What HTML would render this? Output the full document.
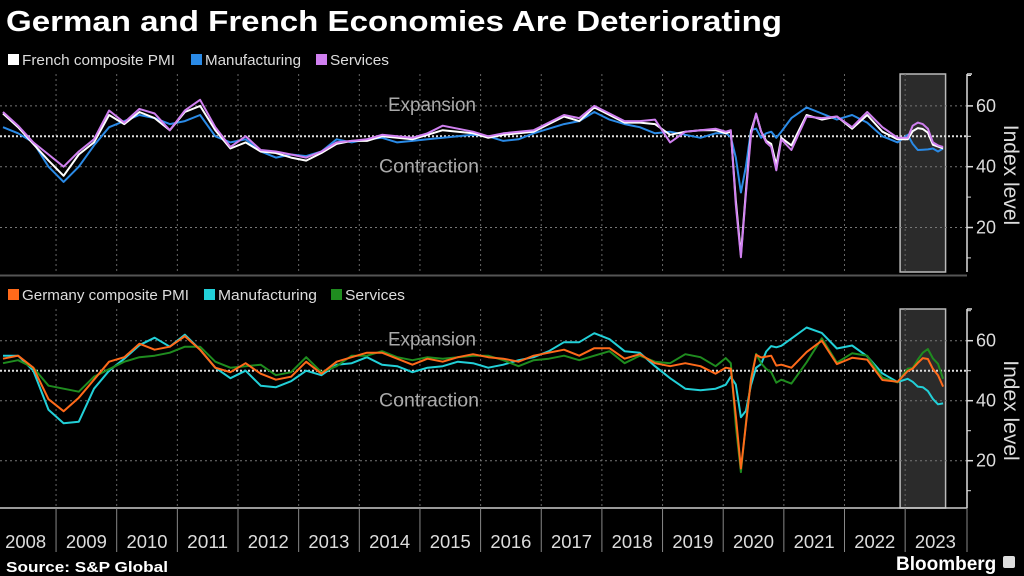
<!DOCTYPE html>
<html><head><meta charset="utf-8"><style>
html,body{margin:0;padding:0;background:#000;}
svg{display:block;font-family:"Liberation Sans",sans-serif;}
</style></head><body>
<svg id="chart" width="1024" height="576" viewBox="0 0 1024 576">
<rect x="0" y="0" width="1024" height="576" fill="#000"/>
<text x="6" y="31" fill="#fff" font-size="29" font-weight="bold" textLength="776" lengthAdjust="spacingAndGlyphs">German and French Economies Are Deteriorating</text>
<g>
<rect x="8" y="54" width="11" height="11" fill="#fff"/>
<text x="22" y="65" fill="#ddd" font-size="15" textLength="153" lengthAdjust="spacingAndGlyphs">French composite PMI</text>
<rect x="191" y="54" width="11" height="11" fill="#2a8ae6"/>
<text x="205" y="65" fill="#ddd" font-size="15" textLength="96" lengthAdjust="spacingAndGlyphs">Manufacturing</text>
<rect x="316" y="54" width="11" height="11" fill="#d080f0"/>
<text x="330" y="65" fill="#ddd" font-size="15" textLength="59" lengthAdjust="spacingAndGlyphs">Services</text>
</g>
<g>
<rect x="8" y="289" width="11" height="11" fill="#ff6a1a"/>
<text x="22" y="300" fill="#ddd" font-size="15" textLength="167" lengthAdjust="spacingAndGlyphs">Germany composite PMI</text>
<rect x="204" y="289" width="11" height="11" fill="#22d0d8"/>
<text x="218" y="300" fill="#ddd" font-size="15" textLength="99" lengthAdjust="spacingAndGlyphs">Manufacturing</text>
<rect x="331" y="289" width="11" height="11" fill="#1f8c1f"/>
<text x="345" y="300" fill="#ddd" font-size="15" textLength="60" lengthAdjust="spacingAndGlyphs">Services</text>
</g>
<rect x="0" y="274.5" width="967" height="2" fill="#555"/>
<g id="layer"></g>
<text x="6" y="572" fill="#fff" font-size="15" font-weight="bold" textLength="162" lengthAdjust="spacingAndGlyphs">Source: S&amp;P Global</text>
<text x="896" y="570" fill="#fff" font-size="19" font-weight="bold">Bloomberg</text>
<rect x="1003" y="556" width="12" height="12" rx="2" fill="#ddd"/>
</svg>
<script>
const dates = [
"2008-02","2008-05","2008-08","2008-11","2009-02","2009-05","2009-08","2009-11",
"2010-02","2010-05","2010-08","2010-11","2011-02","2011-05","2011-08","2011-11",
"2012-02","2012-05","2012-08","2012-11","2013-02","2013-05","2013-08","2013-11",
"2014-02","2014-05","2014-08","2014-11","2015-02","2015-05","2015-08","2015-11",
"2016-02","2016-05","2016-08","2016-11","2017-02","2017-05","2017-08","2017-11",
"2018-02","2018-05","2018-08","2018-11","2019-02","2019-05","2019-08","2019-11",
"2020-01","2020-02","2020-03","2020-04","2020-05","2020-06","2020-07","2020-08","2020-09","2020-10","2020-11","2020-12",
"2021-02","2021-05","2021-08","2021-11","2022-02","2022-05","2022-08","2022-11",
"2023-01","2023-02","2023-03","2023-04","2023-05","2023-06","2023-07","2023-08"];
const frComposite = [57.5,53,47.5,42, 37,44,48,57, 54,58,56,52, 58,60,52,46, 48,45,44.5,43, 42,44.5,47.5,48.5, 48.5,50,49.5,49, 50.5,52,51.5,51, 49.5,50.5,51,51.5, 54,56.5,55,59.5, 57,54.5,54.5,54, 50.5,51.5,52,52,
 51,51.5,29,11,32,51.7,57.3,51.6,48.5,47.5,40.6,49.5, 47,57,55.5,56.5, 52.5,57,51.5,49, 49,51.7,52.7,52.4,51.2,47.2,46.6,46.0];
const frServices = [58,53.5,48,44, 40,45,49,58.5, 54.5,59,57.5,52, 58.5,62,53,46.5, 50,45.5,45,44, 43,45,48,48.5, 49,50.5,50,49.5, 51,53.5,52.5,51.5, 50,51,51.5,52, 54.5,57,56,60, 57.5,55,55,55.5, 48,51.5,52,52.5,
 51.5,52,27.5,10.2,31,50.5,57.5,51.5,48,46.5,38.8,49, 45.5,56.5,56,56.5, 53,58,53,49.5, 49.5,53.5,54.5,54,52.5,48,47,46.5];
const frManufacturing = [53,51,48,40, 35,40,47,53, 55,57,56,54, 55,57,50,48, 49,45,43,44, 43.5,45,49,48, 49,49.5,48,48.5, 49,49.5,50,50.5, 50,48.5,49,51, 52.5,54,55,58, 55.5,54,53,51, 51.5,50.5,49.5,51,
 51,49.8,43,31.5,40,52,52.5,49.5,51,51.5,49.5,51.5, 56,59.5,57.5,55.5, 57,54.5,50,48, 50.5,47.5,45.5,45.6,45.7,46,45,46];
const deComposite = [54,55,51,40.5, 36.5,41,47,53, 54.5,59,57,58, 61.5,57,51,49.5, 52.5,49,47,48, 53,49,53,54.5, 56,56,54,52, 54,53,54.5,55.5, 54.5,54,53,55, 56,57,55,57.5, 57.5,54,55.5,52.5, 51.5,52.5,51.5,49,
 51,50.7,35,17.4,32,47,55.3,54.4,54.7,55,51.7,52, 51,56.2,60,52.2, 54.3,53.7,46.9,46.3, 49.9,50.7,52.6,54.2,53.9,50.6,48.5,44.7];
const deManufacturing = [55,55,50,37, 32.5,33,44,50, 54,58.5,61,58, 62,57,51,47.5, 50,45,44.5,46.5, 50,48.5,52,52.5, 54.5,52,51.5,49.5, 51,51.5,53,52.5, 51,52,53.5,54.5, 56.5,59.5,59.5,62.5, 60.5,56.5,56,51.5, 47.5,44,43.5,44,
 45.3,48,45.4,34.5,36.6,45.2,51,52.2,56.4,58.2,57.8,58.3, 60.7,64.4,62.6,57.4, 58.4,54.8,49.1,46.2, 47.3,46.3,44.7,44.5,43.2,40.6,38.8,39.1];
const deServices = [52.5,53.5,51,45, 44,43,48,50.5, 53,54.5,55,56, 58,58,53,51, 51.5,52,48.5,49.5, 54.5,49.5,51.5,55, 55,56.5,54.5,53.5, 54.5,54,54.5,55, 55,53.5,51.5,53.5, 54,55,53.5,55, 56.5,52.5,55,53, 52.5,55.5,54.5,51.5,
 54.2,52.5,31.7,16.2,32.6,47.3,55.6,52.5,50.6,49.5,46,47, 45.7,52.8,60.8,52.7, 55.8,55,47.7,46.1, 50.7,50.9,53.7,56,57.2,54.1,52.3,47.3];
const years = ["2008","2009","2010","2011","2012","2013","2014","2015","2016","2017","2018","2019","2020","2021","2022","2023"];
const yTicks = [20,40,60];
const minorTicks = [10,30,50,70];
const shadeStart = "2022-12", shadeEnd = "2023-09";

const NS = "http://www.w3.org/2000/svg";
const layer = document.getElementById("layer");
function mk(tag, attrs, parent){ const e=document.createElementNS(NS,tag); for(const k in attrs) e.setAttribute(k,attrs[k]); (parent||layer).appendChild(e); return e; }
function tOf(d){ const p=d.split("-"); return +p[0] + (+p[1]-0.5)/12; }
function xOf(t){ return -4.6 + (t-2008)*60.65; }
const RIGHT = 967;
const panels = [
  {top:74, bot:272, y50:136.3, k:3.04, series:[[frManufacturing,"#2a8ae6"],[frComposite,"#ffffff"],[frServices,"#d080f0"]], name:"france"},
  {top:309, bot:508, y50:370.7, k:3.0, series:[[deManufacturing,"#22d0d8"],[deServices,"#1f8c1f"],[deComposite,"#ff6a1a"]], name:"germany"}
];
panels.forEach(p=>{
  const y = v => p.y50 - (v-50)*p.k;
  const g = mk("g",{});
  
  
  const sx = xOf(tOf(shadeStart)-0.5/12), ex = xOf(tOf(shadeEnd)-0.5/12);
  const sh = mk("rect",{x:sx,y:p.top,width:ex-sx,height:p.bot-p.top,fill:"#2b2b2b",stroke:"#bbb","stroke-width":1.5},g);
  
  
  years.forEach((yr,i)=>{ if(i===0) return; const gx=xOf(+yr);
    const l=mk("line",{x1:gx,x2:gx,y1:p.top,y2:p.bot,stroke:"#666","stroke-width":1,"stroke-dasharray":"2,3"},g);
    
    
  });
  yTicks.forEach(v=>{
    const l=mk("line",{x1:0,x2:RIGHT,y1:y(v),y2:y(v),stroke:"#777","stroke-width":1,"stroke-dasharray":"2,3"},g);
    
    
    const t=mk("text",{x:RIGHT+9,y:y(v)+6,fill:"#ddd","font-size":18},g); t.textContent=v;
    
    
    mk("line",{x1:RIGHT,x2:RIGHT+6,y1:y(v),y2:y(v),stroke:"#ddd","stroke-width":1.5},g);
  });
  minorTicks.forEach(v=>{ const yy=y(v); if(yy<p.top-2||yy>p.bot) return; mk("line",{x1:RIGHT,x2:RIGHT+4,y1:yy,y2:yy,stroke:"#ddd","stroke-width":1},g); });
  const l50=mk("line",{x1:0,x2:RIGHT,y1:y(50),y2:y(50),stroke:"#ddd","stroke-width":2,"stroke-dasharray":"2,2"},g);
  
  
  const ex1=mk("text",{x:476,y:y(60)+5,fill:"#aaa","font-size":19,"text-anchor":"end",textLength:88,lengthAdjust:"spacingAndGlyphs"},g); ex1.textContent="Expansion";
  
  
  const ct=mk("text",{x:479,y:y(40)+6,fill:"#aaa","font-size":19,"text-anchor":"end",textLength:100,lengthAdjust:"spacingAndGlyphs"},g); ct.textContent="Contraction";
  
  
  mk("line",{x1:RIGHT,x2:RIGHT,y1:p.top,y2:p.bot,stroke:"#ddd","stroke-width":1.5},g);
  mk("line",{x1:RIGHT,x2:RIGHT+5,y1:p.top,y2:p.top,stroke:"#ddd","stroke-width":1.5},g);
  const it=mk("text",{x:0,y:0,fill:"#ddd","font-size":21,"text-anchor":"middle",transform:`translate(1004,${(p.top+p.bot)/2+2}) rotate(90)`},g); it.textContent="Index level";
  
  
  p.series.forEach(([vals,col])=>{
    const d = vals.map((v,i)=>(i?"L":"M")+xOf(tOf(dates[i])).toFixed(1)+","+y(v).toFixed(1)).join(" ");
    const pa=mk("path",{d:d,fill:"none",stroke:col,"stroke-width":2,"stroke-linejoin":"round"},g);
    
    
  });
});
const ax=mk("line",{x1:0,x2:RIGHT,y1:508,y2:508,stroke:"#ccc","stroke-width":1.5});


years.forEach((yr,i)=>{
  const x0=xOf(+yr);
  if(i>0){ const s=mk("line",{x1:x0,x2:x0,y1:508,y2:552,stroke:"#888","stroke-width":1});   }
  const t=mk("text",{x:x0+30.3,y:548,fill:"#ddd","font-size":18,"text-anchor":"middle",textLength:41,lengthAdjust:"spacingAndGlyphs"}); t.textContent=yr;
  
  
});
mk("line",{x1:RIGHT,x2:RIGHT,y1:508,y2:552,stroke:"#888","stroke-width":1});
</script>
</body></html>
